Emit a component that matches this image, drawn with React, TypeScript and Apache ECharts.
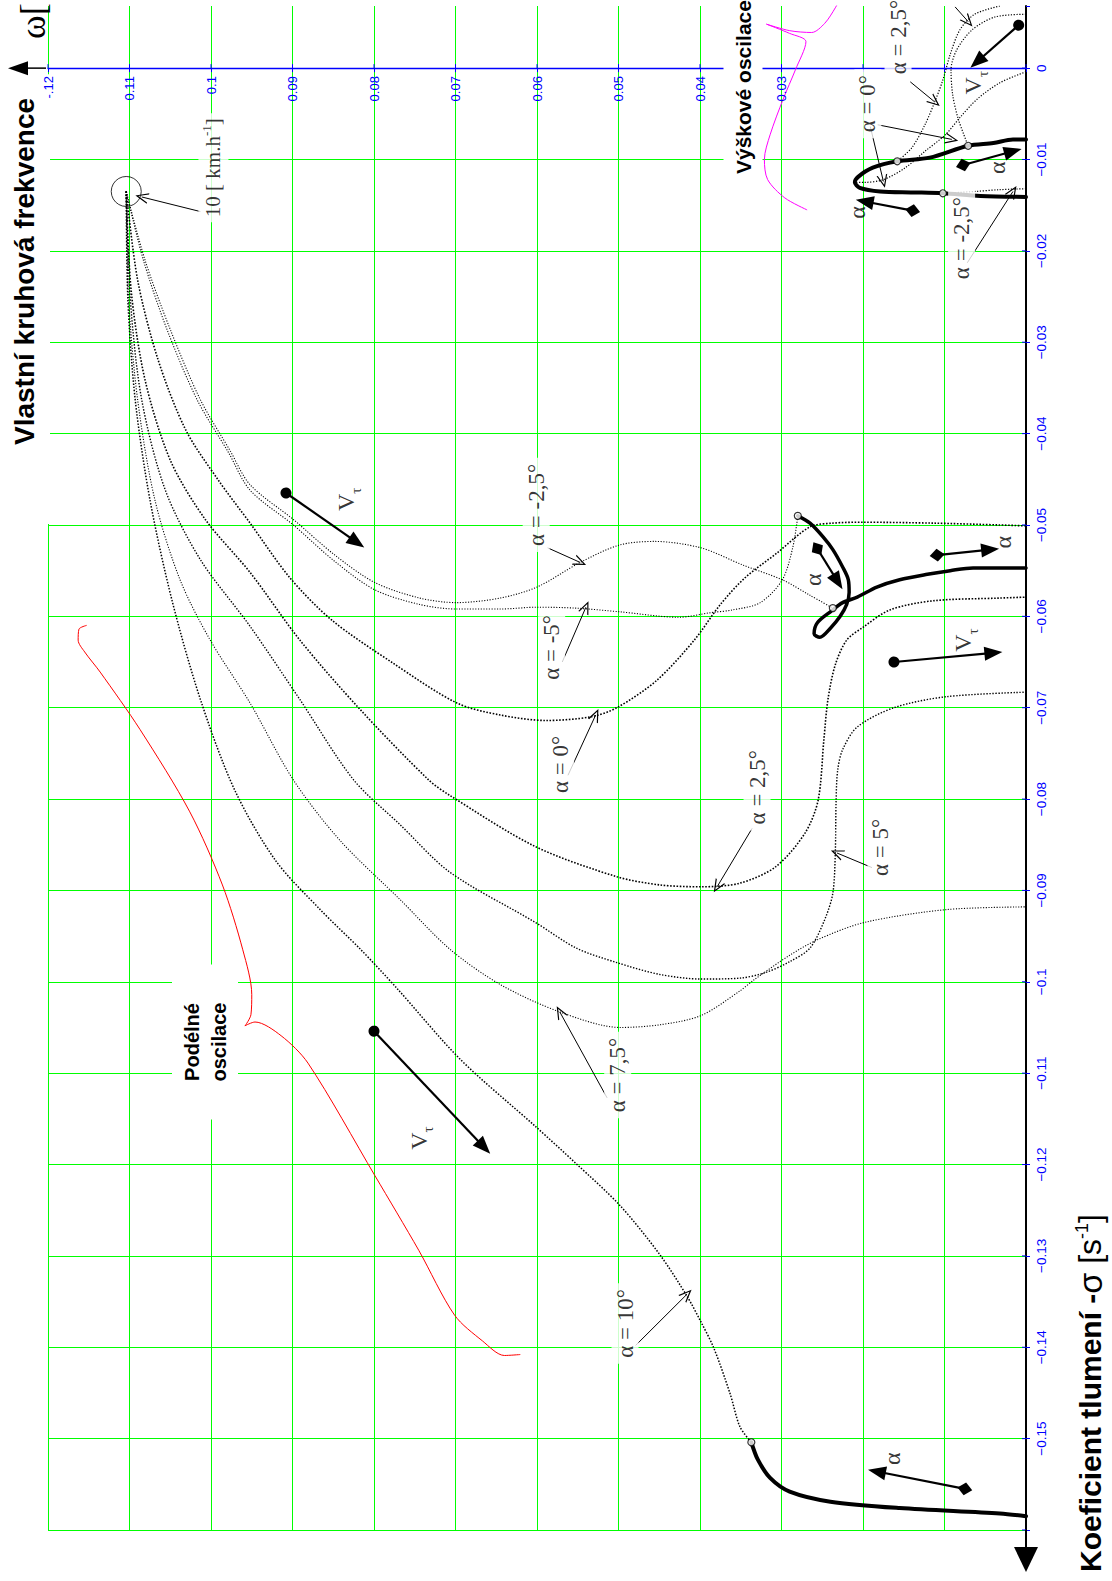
import React, { useEffect, useRef } from 'react';
import * as echarts from 'echarts';

// ---------- axis ranges / ticks ----------
const OMEGA_RANGE = [0, 0.12];
const SIGMA_RANGE = [-0.16, 0.0068];
const TICK_STEP = 0.01;
const OMEGA_TICKS = [0, 0.01, 0.02, 0.03, 0.04, 0.05, 0.06, 0.07, 0.08, 0.09, 0.1, 0.11, 0.12];
const OMEGA_TICK_LABELS = ['', '', '', '0.03', '0.04', '0.05', '0.06', '0.07', '0.08', '0.09', '0.1', '0.11', '-.12'];
const SIGMA_TICKS = [0, -0.01, -0.02, -0.03, -0.04, -0.05, -0.06, -0.07, -0.08, -0.09, -0.1, -0.11, -0.12, -0.13, -0.14, -0.15, -0.16];

// ---------- longitudinal loci (omega, sigma) ----------
const START_POINT = [[0.1104, -0.0135]];

const ALPHA_M5 = [
  [0.1104, -0.0135], [0.1083, -0.021], [0.1054, -0.0286], [0.1017, -0.0363], [0.0979, -0.042],
  [0.0952, -0.0462], [0.0899, -0.05], [0.0848, -0.054], [0.0799, -0.0571], [0.0744, -0.0587],
  [0.0699, -0.0592], [0.0645, -0.0592], [0.06, -0.059], [0.0553, -0.0591], [0.0499, -0.0595],
  [0.0426, -0.0601], [0.0387, -0.0596], [0.036, -0.0593], [0.0326, -0.0585], [0.0299, -0.056],
  [0.0286, -0.0524], [0.028, -0.049],
];
const ALPHA_M25 = [
  [0.1104, -0.0135], [0.1081, -0.021], [0.105, -0.0286], [0.1013, -0.0363], [0.0977, -0.0418],
  [0.0952, -0.0456], [0.0899, -0.0494], [0.0848, -0.0533], [0.0799, -0.0563], [0.0744, -0.058],
  [0.0699, -0.0585], [0.0645, -0.058], [0.06, -0.0568], [0.0547, -0.0541], [0.0499, -0.0522],
  [0.0456, -0.0518], [0.0399, -0.0525], [0.0347, -0.0544], [0.0299, -0.056], [0.0265, -0.0577],
  [0.0237, -0.0591],
];
const ALPHA_0 = [
  [0.1104, -0.0135], [0.109, -0.0232], [0.1065, -0.0319], [0.1031, -0.0396], [0.0991, -0.0451],
  [0.0952, -0.0498], [0.0903, -0.0558], [0.0852, -0.0604], [0.0777, -0.0651], [0.0698, -0.0695],
  [0.0645, -0.0708], [0.0589, -0.0714], [0.0534, -0.071], [0.0502, -0.07], [0.0453, -0.067],
  [0.0407, -0.0626], [0.0375, -0.0587], [0.0345, -0.0558], [0.0306, -0.0531], [0.0265, -0.0502],
  [0.0237, -0.0498], [0.02, -0.0497], [0.0114, -0.0498], [0.0032, -0.05], [0, -0.0501],
];
const ALPHA_25 = [
  [0.1104, -0.0135], [0.1098, -0.0243], [0.1081, -0.0341], [0.105, -0.0429], [0.1007, -0.0494],
  [0.0952, -0.0552], [0.0891, -0.0626], [0.0817, -0.0702], [0.0733, -0.0779], [0.0707, -0.0796],
  [0.0602, -0.0852], [0.0502, -0.0885], [0.0449, -0.0894], [0.0398, -0.0896], [0.0351, -0.0892],
  [0.0307, -0.0874], [0.0271, -0.0837], [0.0255, -0.0801], [0.0248, -0.0735], [0.0243, -0.0691],
  [0.0234, -0.0653], [0.022, -0.0626], [0.02, -0.0612], [0.0167, -0.0593], [0.0114, -0.0583],
  [0.0032, -0.058], [0, -0.0579],
];
const ALPHA_5 = [
  [0.1104, -0.0135], [0.1099, -0.0253], [0.1085, -0.0363], [0.1056, -0.0462], [0.1013, -0.0538],
  [0.0952, -0.0611], [0.0891, -0.0691], [0.0825, -0.0779], [0.0768, -0.0828], [0.0707, -0.088],
  [0.0602, -0.0935], [0.0552, -0.0963], [0.0502, -0.0979], [0.0449, -0.0992], [0.0398, -0.0997],
  [0.0351, -0.0996], [0.032, -0.099], [0.029, -0.0978], [0.0265, -0.0963], [0.0247, -0.0932],
  [0.0237, -0.0903], [0.0234, -0.0859], [0.0233, -0.0801], [0.0231, -0.0768], [0.0225, -0.0746],
  [0.0207, -0.0721], [0.0162, -0.07], [0.0098, -0.0688], [0, -0.0683],
];
const ALPHA_75 = [
  [0.1104, -0.0135], [0.1101, -0.0253], [0.109, -0.0363], [0.1069, -0.0472], [0.1038, -0.056],
  [0.1001, -0.0626], [0.0952, -0.0695], [0.0899, -0.0779], [0.0842, -0.0845], [0.0768, -0.091],
  [0.0706, -0.0965], [0.0645, -0.1003], [0.0572, -0.1033], [0.0498, -0.105], [0.0449, -0.1047],
  [0.0399, -0.1037], [0.0351, -0.101], [0.0334, -0.0998], [0.029, -0.0971], [0.0256, -0.0954],
  [0.0198, -0.0935], [0.0098, -0.0921], [0, -0.0918],
];
const ALPHA_10 = [
  [0.1104, -0.0135], [0.1102, -0.0253], [0.1093, -0.0363], [0.1075, -0.0472], [0.1048, -0.0582],
  [0.1013, -0.0691], [0.0971, -0.079], [0.0921, -0.0867], [0.0866, -0.0921], [0.0816, -0.0965],
  [0.0772, -0.1007], [0.0694, -0.1085], [0.0601, -0.1159], [0.0552, -0.1199], [0.0498, -0.1245],
  [0.0449, -0.1299], [0.0416, -0.1344], [0.0399, -0.1372], [0.0383, -0.1401], [0.0363, -0.1451],
  [0.0351, -0.1487], [0.0337, -0.1504],
];

// ---------- thick alpha-loci ----------
const THICK_BOTTOM = [
  [0.0337, -0.1504], [0.0329, -0.1523], [0.0314, -0.1543], [0.029, -0.1558], [0.024, -0.1569],
  [0.0155, -0.1576], [0.0032, -0.1582], [0, -0.1585],
];
const THICK_MIDDLE = [
  [0.028, -0.049], [0.0265, -0.0498], [0.0249, -0.0513], [0.0237, -0.0527], [0.0225, -0.0546],
  [0.0218, -0.056], [0.0217, -0.0574], [0.022, -0.0587], [0.0228, -0.06], [0.024, -0.0613],
  [0.0253, -0.0623], [0.026, -0.0619], [0.0256, -0.0607], [0.024, -0.0595], [0.0225, -0.0585],
  [0.0207, -0.0579], [0.0183, -0.0568], [0.0155, -0.056], [0.0121, -0.0554], [0.0093, -0.055],
  [0.0065, -0.0547], [0.0032, -0.0547], [0, -0.0547],
];
const THICK_TOP = [
  [0, -0.0078], [0.0016, -0.0078], [0.004, -0.0082], [0.0071, -0.0085], [0.0118, -0.0098],
  [0.0158, -0.0102], [0.0188, -0.0109], [0.0206, -0.0119], [0.021, -0.0125], [0.0204, -0.0131],
  [0.0179, -0.0135], [0.0139, -0.0136], [0.0102, -0.0137], [0.0056, -0.014], [0, -0.0141],
];

// ---------- vertical-oscillation loci ----------
const VERT_A = [
  [0, 0.0059], [0.0038, 0.0056], [0.0066, 0.0042], [0.0085, 0.002], [0.0092, -0.0002],
  [0.009, -0.0029], [0.0083, -0.0056], [0.0071, -0.0085],
];
const VERT_B = [
  [0.0032, 0.0068], [0.0063, 0.0059], [0.0081, 0.0042], [0.0093, 0.0015], [0.0102, -0.0013],
  [0.0112, -0.0037], [0.0124, -0.0062], [0.014, -0.0087], [0.0158, -0.0102],
];
const VERT_C = [
  [0, -0.0004], [0.0032, -0.0016], [0.006, -0.0034], [0.0081, -0.0054], [0.0099, -0.0073],
  [0.0124, -0.0091], [0.0148, -0.0109], [0.0175, -0.0122], [0.0198, -0.0125], [0.021, -0.0125],
];
const VERT_D = [[0, -0.0132], [0.0032, -0.0133], [0.0063, -0.0135], [0.0102, -0.0137]];

const SMALL_CIRCLES = [
  [0.028, -0.049], [0.0237, -0.0591], [0.0337, -0.1504], [0.0071, -0.0085], [0.0158, -0.0102], [0.0102, -0.0137],
];

// ---------- braces ----------
const RED_BRACE_UPPER = [
  [0.1153, -0.061], [0.1162, -0.0614], [0.1163, -0.0626], [0.1155, -0.0639], [0.1136, -0.0661],
  [0.1087, -0.0724], [0.1026, -0.0814], [0.0986, -0.0894], [0.0961, -0.0965], [0.095, -0.1014],
  [0.0951, -0.1036], [0.0958, -0.1048],
];
const RED_BRACE_LOWER = [
  [0.0958, -0.1048], [0.0946, -0.1044], [0.0914, -0.1059], [0.0881, -0.1089], [0.0799, -0.1212],
  [0.0745, -0.1294], [0.0701, -0.1365], [0.0667, -0.1393], [0.064, -0.1409], [0.0621, -0.1408],
];
const MAGENTA_BRACE_UPPER = [
  [0.0222, 0.0086], [0.0234, 0.0066], [0.0247, 0.0049], [0.0263, 0.0039], [0.029, 0.0041], [0.0318, 0.0048],
];
const MAGENTA_BRACE_LOWER = [
  [0.0318, 0.0048], [0.029, 0.0038], [0.027, 0.0029], [0.0283, -0.0002], [0.0298, -0.0034],
  [0.0314, -0.0073], [0.0321, -0.01], [0.0317, -0.0122], [0.0296, -0.0142], [0.0269, -0.0155],
];

// ---------- arrows (from, to) ----------
const SPEED_ARROWS = [
  [[0.0908, -0.0465], [0.0821, -0.0519]],
  [[0.08, -0.1054], [0.0665, -0.1181]],
  [[0.0162, -0.065], [0.004, -0.064]],
  [[0.0009, 0.0047], [0.006, 0.0007]],
];
const ALPHA_ARROWS = [
  [[0.0139, -0.0156], [0.0198, -0.0146]],
  [[0.0077, -0.0106], [0.0016, -0.0091]],
  [[0.0256, -0.0526], [0.0231, -0.0562]],
  [[0.0109, -0.0533], [0.0044, -0.0527]],
  [[0.0075, -0.1555], [0.0183, -0.1536]],
];
const POINTER_ARROWS = [
  [[0.1013, -0.0157], [0.1085, -0.0141]],
  [[0.0587, -0.0525], [0.0547, -0.0541]],
  [[0.0569, -0.065], [0.054, -0.059]],
  [[0.0562, -0.0774], [0.0528, -0.0708]],
  [[0.0336, -0.0832], [0.0379, -0.0896]],
  [[0.0189, -0.0875], [0.0232, -0.0859]],
  [[0.0514, -0.1127], [0.0572, -0.1033]],
  [[0.0479, -0.1398], [0.0416, -0.1342]],
  [[0.0191, -0.0064], [0.0175, -0.0124]],
  [[0.0182, -0.0062], [0.0091, -0.0078]],
  [[0.0142, -0.0015], [0.0112, -0.0037]],
  [[0.0087, 0.0067], [0.0071, 0.0051]],
  [[0.0072, -0.0213], [0.0016, -0.0135]],
];

// ---------- text annotations ----------
const ALPHA_LABEL_POS = [
  [0.0601, -0.0478], [0.0582, -0.0634], [0.0571, -0.0762], [0.033, -0.0787], [0.0178, -0.0853],
  [0.0501, -0.1102], [0.0492, -0.1374], [0.0157, 0.0034], [0.0194, -0.0039], [0.0079, -0.0186],
];
const ALPHA_LABEL_TEXT = [
  'α = -2,5°', 'α = -5°', 'α = 0°', 'α = 2,5°', 'α = 5°', 'α = 7,5°', 'α = 10°', 'α = 2,5°', 'α = 0°', 'α = -2,5°',
];
const ALPHA_MARK_POS = [[0.0207, -0.0158], [0.0036, -0.0109], [0.0261, -0.056], [0.0028, -0.0519], [0.0164, -0.1522]];
const SPEED_MARK_POS = [[0.0834, -0.0472], [0.0745, -0.1171], [0.0077, -0.0626], [0.0065, -0.0016]];
const START_LABEL_POS = [[0.0997, -0.0109]];
const START_LABEL_TEXT = '10 [ km.h{sup|-1}]';

const SERIF = '"Liberation Serif", "Times New Roman", serif';
const SANS = '"Liberation Sans", Arial, sans-serif';

function dotted(data: number[][], width: number) {
  return {
    type: 'line', data, smooth: 0.3, symbol: 'none', showSymbol: false, silent: true, z: 3,
    lineStyle: { color: '#000', width, type: [width, 1.6] },
  };
}
function solid(data: number[][], color: string, width: number, z: number) {
  return {
    type: 'line', data, smooth: 0.3, symbol: 'none', showSymbol: false, silent: true, z,
    lineStyle: { color, width, type: 'solid', cap: 'round', join: 'round' },
  };
}
function textLabels(positions: number[][], texts: string[], extra: any) {
  return {
    type: 'scatter', silent: true, z: 8, clip: false, symbolSize: 1,
    itemStyle: { color: 'rgba(0,0,0,0)' },
    data: positions.map((p, i) => ({ value: p, label: { formatter: texts[i] } })),
    label: { show: true, position: 'inside', rotate: 90, color: '#000', fontFamily: SERIF, fontSize: 23, ...extra },
  };
}

const CHEVRON = 'path://M0,0L6,13L4.6,13L0,3L-4.6,13L-6,13Z';

export default function App() {
  const ref = useRef<HTMLDivElement>(null);
  useEffect(() => {
    const el = ref.current;
    if (!el) return;
    const chart = echarts.init(el, null, { renderer: 'svg' });

    const arrowData: any[] = [];
    SPEED_ARROWS.forEach(([a, b]) => arrowData.push([
      { coord: a, symbol: 'circle', symbolSize: 11, lineStyle: { color: '#000', width: 2.2, type: 'solid' } },
      { coord: b, symbol: 'triangle', symbolSize: [14, 18] },
    ]));
    ALPHA_ARROWS.forEach(([a, b]) => arrowData.push([
      { coord: a, symbol: 'diamond', symbolSize: [13, 15], lineStyle: { color: '#000', width: 2.2, type: 'solid' } },
      { coord: b, symbol: 'triangle', symbolSize: [14, 18] },
    ]));
    POINTER_ARROWS.forEach(([a, b]) => arrowData.push([
      { coord: a, symbol: 'none', lineStyle: { color: '#000', width: 1, type: 'solid' } },
      { coord: b, symbol: CHEVRON, symbolSize: [11, 13] },
    ]));

    const option: any = {
      animation: false,
      backgroundColor: '#fff',
      textStyle: { fontFamily: SANS },
      grid: { left: 48, right: 86, top: 6, bottom: 51, containLabel: false },
      xAxis: {
        type: 'value', min: OMEGA_RANGE[0], max: OMEGA_RANGE[1], interval: TICK_STEP, inverse: true, position: 'bottom',
        axisLine: { show: true, onZero: true, lineStyle: { color: '#0000ff', width: 1.3 } },
        axisTick: { show: true, length: 4, lineStyle: { color: '#0000ff', width: 1 } },
        axisLabel: { show: false },
        splitLine: { show: true, lineStyle: { color: '#00ff00', width: 1 } },
      },
      yAxis: {
        type: 'value', min: SIGMA_RANGE[0], max: SIGMA_RANGE[1], interval: TICK_STEP, position: 'right',
        axisLine: { show: true, onZero: true, lineStyle: { color: '#000', width: 2 } },
        axisTick: { show: true, length: 4, lineStyle: { color: '#0000ff', width: 1 } },
        axisLabel: {
          show: true, rotate: 90, margin: 8, color: '#0000ff', fontSize: 13.5, fontFamily: SANS,
          formatter: (v: number) => {
            if (v > 0.001) return '';
            const r = Math.round(v * 100) / 100;
            if (r === 0) return '0';
            if (r <= -0.16) return '';
            return '\u2212' + String(-r);
          },
        },
        splitLine: { show: true, showMaxLine: false, lineStyle: { color: '#00ff00', width: 1 } },
      },
      series: [
        dotted(ALPHA_M5, 1.1),
        dotted(ALPHA_M25, 1.1),
        dotted(ALPHA_0, 1.6),
        dotted(ALPHA_25, 1.6),
        dotted(ALPHA_5, 1.4),
        dotted(ALPHA_75, 1.1),
        dotted(ALPHA_10, 1.5),
        dotted(VERT_A, 1.2),
        dotted(VERT_B, 1.2),
        dotted(VERT_C, 1.2),
        dotted(VERT_D, 1.2),
        solid(THICK_BOTTOM, '#000', 4, 4),
        solid(THICK_MIDDLE, '#000', 3.5, 4),
        solid(THICK_TOP, '#000', 4, 4),
        solid(RED_BRACE_UPPER, '#ff0000', 1, 3),
        solid(RED_BRACE_LOWER, '#ff0000', 1, 3),
        solid(MAGENTA_BRACE_UPPER, '#ff00ff', 1, 3),
        solid(MAGENTA_BRACE_LOWER, '#ff00ff', 1, 3),
        {
          type: 'scatter', data: SMALL_CIRCLES, symbol: 'circle', symbolSize: 7, silent: true, z: 6, clip: false,
          itemStyle: { color: '#fff', borderColor: '#000', borderWidth: 1.2 },
        },
        {
          type: 'scatter', data: START_POINT, symbol: 'circle', symbolSize: 30, silent: true, z: 7, clip: false,
          itemStyle: { color: 'rgba(0,0,0,0)', borderColor: '#000', borderWidth: 1 },
          markLine: {
            silent: true, animation: false, precision: 6,
            label: { show: false }, emphasis: { disabled: true },
            lineStyle: { color: '#000', type: 'solid' },
            data: arrowData,
          },
        },
        textLabels(ALPHA_LABEL_POS, ALPHA_LABEL_TEXT, { backgroundColor: '#fff', padding: [2, 6, 2, 6] }),
        textLabels(ALPHA_MARK_POS, ALPHA_MARK_POS.map(() => 'α'), { fontSize: 24 }),
        textLabels(SPEED_MARK_POS, SPEED_MARK_POS.map(() => 'V{s|τ}'), {
          fontSize: 24, lineHeight: 26,
          rich: { s: { fontFamily: SERIF, fontSize: 15, lineHeight: 34, verticalAlign: 'bottom', color: '#000' } },
        }),
        textLabels(START_LABEL_POS, [START_LABEL_TEXT], {
          fontSize: 21, lineHeight: 26, backgroundColor: '#fff', padding: [2, 5, 2, 5],
          rich: { sup: { fontFamily: SERIF, fontSize: 13, verticalAlign: 'top', lineHeight: 26, color: '#000' } },
        }),
      ],
    };
    chart.setOption(option);

    const px = (p: number[]) => chart.convertToPixel({ xAxisIndex: 0, yAxisIndex: 0 }, p) as number[];
    const origin = px([0, 0]);
    const leftEnd = px([OMEGA_RANGE[1], 0]);
    const bottomEnd = px([0, SIGMA_RANGE[0]]);
    const gridStart = px([OMEGA_RANGE[1], -0.05]);
    const rot = Math.PI / 2;

    const tickMarks: any[] = [];
    OMEGA_TICKS.forEach((w, i) => {
      const p = px([w, 0]);
      tickMarks.push({
        type: 'line', z: 5, silent: true,
        shape: { x1: p[0], y1: p[1] - 4, x2: p[0], y2: p[1] },
        style: { stroke: '#0000ff', lineWidth: 1 },
      });
      if (OMEGA_TICK_LABELS[i]) {
        tickMarks.push({
          type: 'text', z: 5, silent: true, x: p[0], y: p[1] + 8, rotation: rot,
          style: { text: OMEGA_TICK_LABELS[i], fill: '#0000ff', font: `13px ${SANS}`, align: 'right', verticalAlign: 'middle' },
        });
      }
    });
    SIGMA_TICKS.forEach((s) => {
      const p = px([0, s]);
      tickMarks.push({
        type: 'line', z: 5, silent: true,
        shape: { x1: p[0] - 4, y1: p[1], x2: p[0], y2: p[1] },
        style: { stroke: '#0000ff', lineWidth: 1 },
      });
    });

    chart.setOption({
      graphic: [
        ...tickMarks,
        {
          type: 'rect', z: 1, silent: true,
          shape: { x: leftEnd[0] - 2, y: origin[1] + 6, width: 4, height: gridStart[1] - origin[1] - 7 },
          style: { fill: '#fff' },
        },
        {
          type: 'line', z: 5, silent: true,
          shape: { x1: leftEnd[0] - 22, y1: origin[1], x2: leftEnd[0] - 2, y2: origin[1] },
          style: { stroke: '#000', lineWidth: 1.5 },
        },
        {
          type: 'polygon', z: 5, silent: true,
          shape: { points: [[leftEnd[0] - 40, origin[1]], [leftEnd[0] - 20, origin[1] - 7], [leftEnd[0] - 20, origin[1] + 7]] },
          style: { fill: '#000' },
        },
        {
          type: 'line', z: 5, silent: true,
          shape: { x1: bottomEnd[0], y1: bottomEnd[1], x2: bottomEnd[0], y2: bottomEnd[1] + 20 },
          style: { stroke: '#000', lineWidth: 2 },
        },
        {
          type: 'polygon', z: 5, silent: true,
          shape: { points: [[bottomEnd[0], bottomEnd[1] + 42], [bottomEnd[0] - 12, bottomEnd[1] + 17], [bottomEnd[0] + 12, bottomEnd[1] + 17]] },
          style: { fill: '#000' },
        },
        {
          type: 'text', z: 10, silent: true, x: 24, y: 445, rotation: rot,
          style: { text: 'Vlastní kruhová frekvence', fill: '#000', font: `bold 28px ${SANS}`, align: 'left', verticalAlign: 'middle' },
        },
        {
          type: 'text', z: 10, silent: true, x: 33, y: 39, rotation: rot,
          style: { text: 'ω[', fill: '#000', font: `36px ${SERIF}`, align: 'left', verticalAlign: 'middle' },
        },
        {
          type: 'text', z: 10, silent: true, x: 1090, y: 1572, rotation: rot,
          style: {
            text: '{b|Koeficient tlumení -}{g|σ}{r| [s}{sup|-1}{r|]}',
            fill: '#000', align: 'left', verticalAlign: 'middle',
            rich: {
              b: { fontFamily: SANS, fontWeight: 'bold', fontSize: 30, fill: '#000' },
              g: { fontFamily: SANS, fontSize: 34, fill: '#000' },
              r: { fontFamily: SANS, fontSize: 32, fill: '#000' },
              sup: { fontFamily: SANS, fontSize: 18, fill: '#000', verticalAlign: 'top' },
            },
          },
        },
        {
          type: 'text', z: 10, silent: true, x: 743, y: 176, rotation: rot,
          style: {
            text: 'Výškové oscilace', fill: '#000', font: `bold 21px ${SANS}`, align: 'left', verticalAlign: 'middle',
            backgroundColor: '#fff', padding: [8, 2, 10, 2],
          },
        },
        {
          type: 'text', z: 10, silent: true, x: 205, y: 1042, rotation: rot,
          style: {
            text: 'Podélné\noscilace', fill: '#000', font: `bold 20px ${SANS}`, lineHeight: 27,
            align: 'center', verticalAlign: 'middle', backgroundColor: '#fff', padding: [6, 38, 6, 38],
          },
        },
      ],
    });

    return () => chart.dispose();
  }, []);
  return <div ref={ref} style={{ position: 'absolute', left: 0, top: 0, width: 1112, height: 1581, background: '#fff' }} />;
}
